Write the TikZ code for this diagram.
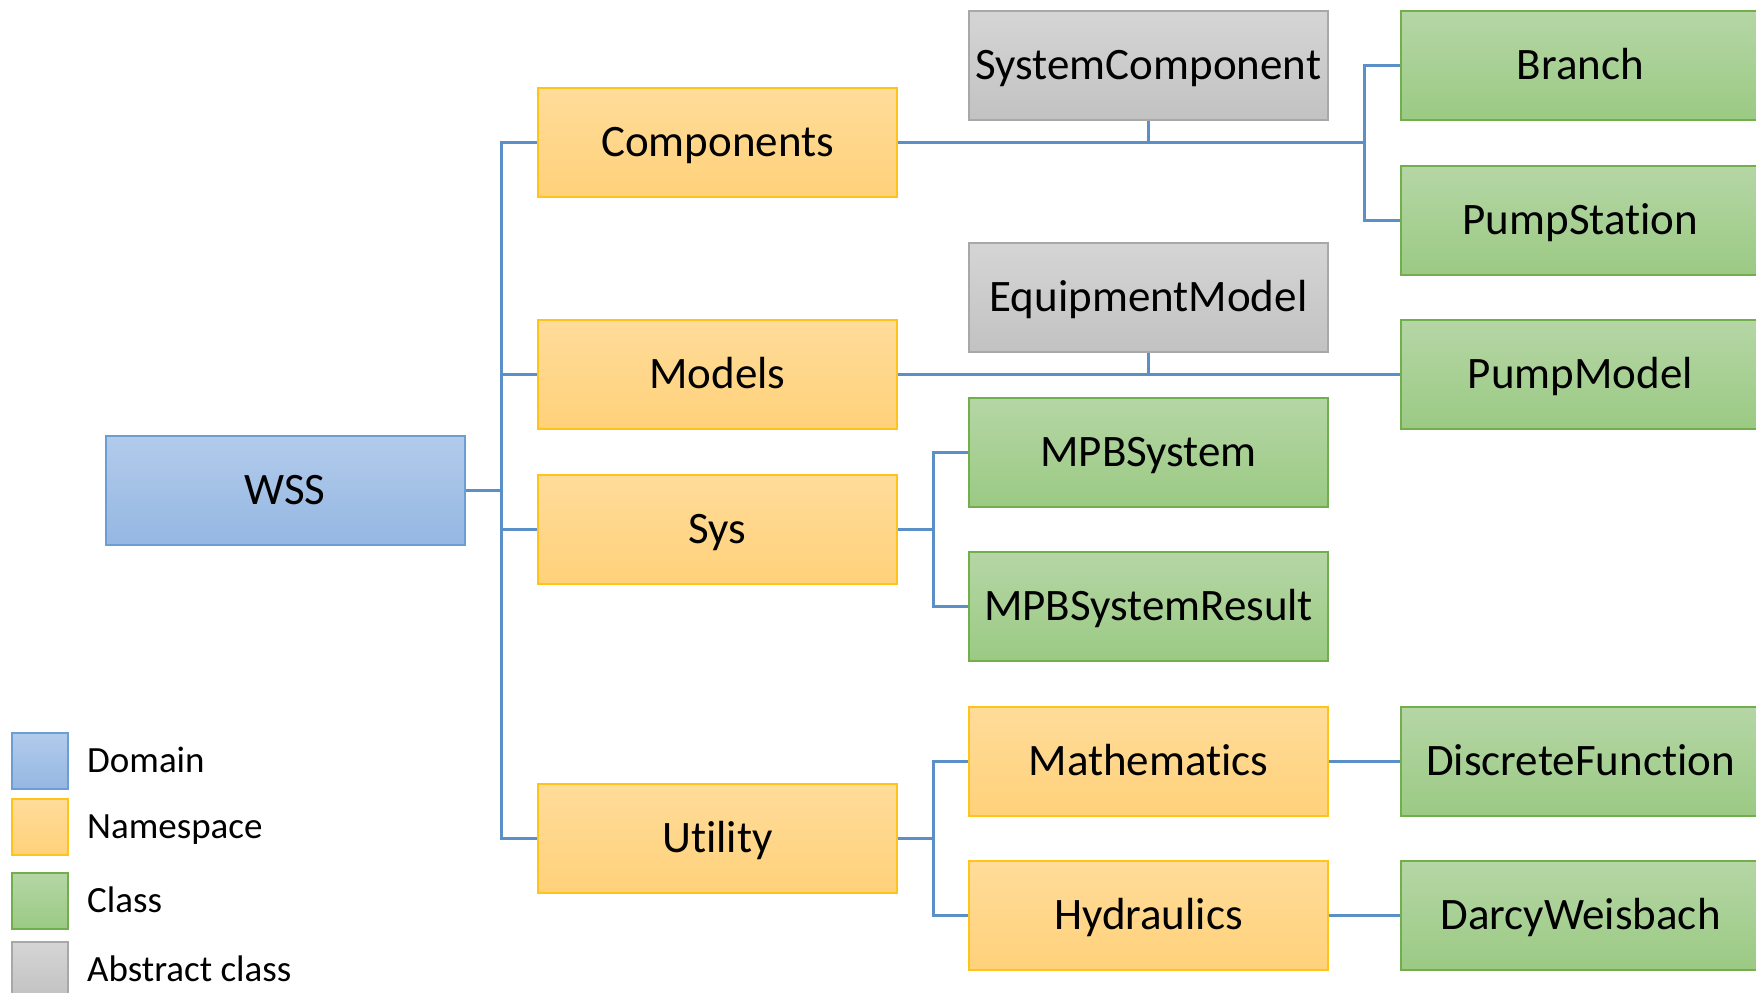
\documentclass[tikz,border=0pt]{standalone}
\usepackage{fontspec}
\setmainfont{Carlito}[Ligatures=NoCommon]
\usetikzlibrary{calc, positioning}

\definecolor{linkblue}{HTML}{5B8FC8}
\definecolor{domtop}{HTML}{B2CBEB}
\definecolor{dombot}{HTML}{95B7E2}
\definecolor{domline}{HTML}{6C9DD3}
\definecolor{nstop}{HTML}{FFDC9A}
\definecolor{nsbot}{HTML}{FFD17A}
\definecolor{nsline}{HTML}{FFC31A}
\definecolor{cltop}{HTML}{B5D6A5}
\definecolor{clbot}{HTML}{9BCA84}
\definecolor{clline}{HTML}{73AE4C}
\definecolor{abtop}{HTML}{D5D5D5}
\definecolor{abbot}{HTML}{C2C2C2}
\definecolor{abline}{HTML}{A8A8A8}

\tikzset{
  box/.style={rectangle, minimum width=359pt, minimum height=109pt, inner sep=0pt,
    text height=36pt, text depth=8pt,
    line width=2pt, font=\fontsize{45}{54}\selectfont},
  domainbox/.style={box, draw=domline, top color=domtop, bottom color=dombot},
  nsbox/.style={box, draw=nsline, top color=nstop, bottom color=nsbot},
  classbox/.style={box, draw=clline, top color=cltop, bottom color=clbot},
  abstractbox/.style={box, draw=abline, top color=abtop, bottom color=abbot},
  link/.style={draw=linkblue, line width=3pt},
  keybox/.style={minimum size=56pt, inner sep=0pt, line width=2pt},
  keytext/.style={anchor=west, inner sep=0pt, text height=28pt, text depth=6pt,
    font=\fontsize{37}{44}\selectfont}
}

\begin{document}
\begin{tikzpicture}[line cap=butt,line join=miter,x=1pt,y=-1pt]
\useasboundingbox (0,0) rectangle (1756,993);

% Domain
\node [domainbox] (wss) at (285,490.6) {WSS};

% Namespaces
\node [nsbox] (components) at (717.5,142.8) {Components};
\node [nsbox] (models) at (717.5,374.7) {Models};
\node [nsbox] (sys) at (717.5,529.3) {Sys};
\node [nsbox] (utility) at (717.5,838.5) {Utility};
\node [nsbox] (mathematics) at (1148.5,761.2) {Mathematics};
\node [nsbox] (hydraulics) at (1148.5,915.8) {Hydraulics};

% Abstract classes
\node [abstractbox] (syscomp) at (1148.5,65.5) {SystemComponent};
\node [abstractbox] (equipmodel) at (1148.5,297.4) {EquipmentModel};

% Classes
\node [classbox] (mpbsystem) at (1148.5,452) {MPBSystem};
\node [classbox] (mpbresult) at (1148.5,606.6) {MPBSystemResult};
\node [classbox] (branch) at (1580.5,65.5) {Branch};
\node [classbox] (pumpstation) at (1580.5,220.1) {PumpStation};
\node [classbox] (pumpmodel) at (1580.5,374.7) {PumpModel};
\node [classbox] (discretefn) at (1580.5,761.2) {DiscreteFunction};
\node [classbox] (darcy) at (1580.5,915.8) {DarcyWeisbach};

% Bus points
\coordinate (busW) at (501,490.6);
\coordinate (busC) at (1364,142.8);
\coordinate (busS) at (933,529.3);
\coordinate (busU) at (933,838.5);

% Connectors
\draw [link] (wss.east) -- (busW);
\draw [link] (components.west) -| (busW) |- (utility.west);
\draw [link] (busW |- models.west) -- (models.west);
\draw [link] (busW |- sys.west) -- (sys.west);

\draw [link] (components.east) -- (busC);
\draw [link] (branch.west) -| (busC) |- (pumpstation.west);
\draw [link] (syscomp.south) -- (syscomp.south |- components.east);

\draw [link] (models.east) -- (pumpmodel.west);
\draw [link] (equipmodel.south) -- (equipmodel.south |- models.east);

\draw [link] (sys.east) -- (busS);
\draw [link] (mpbsystem.west) -| (busS) |- (mpbresult.west);

\draw [link] (utility.east) -- (busU);
\draw [link] (mathematics.west) -| (busU) |- (hydraulics.west);

\draw [link] (mathematics.east) -- (discretefn.west);
\draw [link] (hydraulics.east) -- (darcy.west);

% Legend
\node [keybox, draw=domline, top color=domtop, bottom color=dombot] (keydom) at (40,761) {};
\node [keybox, draw=nsline, top color=nstop, bottom color=nsbot] (keyns) at (40,827) {};
\node [keybox, draw=clline, top color=cltop, bottom color=clbot] (keycl) at (40,901) {};
\node [keybox, draw=abline, top color=abtop, bottom color=abbot] (keyab) at (40,970) {};
\node [keytext] at (87,761) {Domain};
\node [keytext] at (87,827) {Namespace};
\node [keytext] at (87,901) {Class};
\node [keytext] at (87,970) {Abstract class};
\end{tikzpicture}
\end{document}
